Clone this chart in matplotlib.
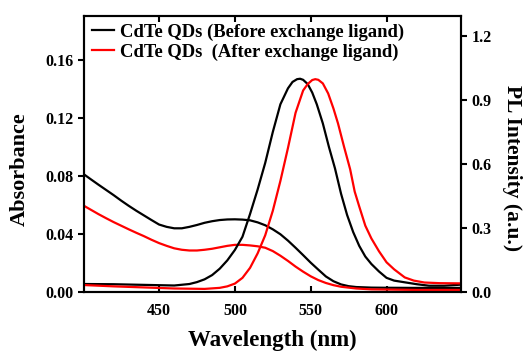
import numpy as np
import matplotlib
matplotlib.use('Agg')
import matplotlib.pyplot as plt

plt.rcParams['font.family'] = 'Liberation Serif'
plt.rcParams['font.weight'] = 'bold'

# absorbance, before exchange (black)
wl_abs_before = [401, 405, 410, 415, 420, 425, 430, 435, 440, 445, 450, 455, 460, 465, 470, 475, 480, 485, 490,
                 495, 500, 505, 510, 515, 520, 525, 530, 535, 540, 545, 550, 555, 560, 565, 570, 575, 580, 590,
                 600, 620, 649]
abs_before = [0.0805, 0.0775, 0.0738, 0.0702, 0.0666, 0.0628, 0.0592, 0.0558, 0.0526, 0.0494, 0.0463, 0.0447,
              0.0437, 0.0437, 0.0447, 0.046, 0.0475, 0.0486, 0.0494, 0.0498, 0.0499, 0.0497, 0.0492, 0.0478,
              0.0458, 0.043, 0.0396, 0.0352, 0.0303, 0.0252, 0.02, 0.0152, 0.0105, 0.0072, 0.005, 0.0038,
              0.0032, 0.0028, 0.0027, 0.0026, 0.0026]

# absorbance, after exchange (red)
wl_abs_after = [401, 405, 410, 415, 420, 425, 430, 435, 440, 445, 450, 455, 460, 465, 470, 475, 480, 485, 490,
                495, 500, 505, 510, 515, 520, 525, 530, 535, 540, 545, 550, 555, 560, 565, 570, 580, 590, 620, 649]
abs_after = [0.0589, 0.0565, 0.0535, 0.0507, 0.048, 0.0455, 0.043, 0.0406, 0.0383, 0.0358, 0.0335, 0.0316,
             0.0299, 0.0289, 0.0284, 0.0284, 0.0289, 0.0296, 0.0306, 0.0316, 0.0323, 0.0323, 0.0319, 0.0313,
             0.0303, 0.028, 0.0248, 0.0212, 0.0173, 0.0138, 0.0106, 0.008, 0.006, 0.0045, 0.0034, 0.0022,
             0.0016, 0.0012, 0.0012]

# PL, before exchange (black)
wl_pl_before = [401, 420, 440, 460, 470, 475, 480, 485, 490, 495, 500, 505, 510, 515, 520, 525, 530, 535, 538,
                541, 543, 545, 548, 551, 554, 558, 562, 566, 570, 574, 578, 582, 586, 590, 595, 600, 605, 612,
                620, 628, 638, 649]
pl_before = [0.036, 0.035, 0.032, 0.029, 0.036, 0.045, 0.058, 0.078, 0.108, 0.147, 0.196, 0.258, 0.365, 0.48,
             0.605, 0.75, 0.88, 0.955, 0.985, 0.998, 1.0, 0.995, 0.975, 0.935, 0.88, 0.79, 0.68, 0.579, 0.46,
             0.36, 0.28, 0.215, 0.165, 0.13, 0.095, 0.065, 0.052, 0.044, 0.035, 0.028, 0.028, 0.033]

# PL, after exchange (red)
wl_pl_after = [401, 420, 440, 460, 480, 490, 495, 500, 505, 510, 515, 520, 525, 530, 535, 540, 545, 548, 551,
               553, 555, 558, 561.5, 565, 568, 572, 576, 579, 582, 586, 590, 595, 600, 605, 612, 618, 625, 635,
               649]
pl_after = [0.031, 0.025, 0.02, 0.015, 0.013, 0.018, 0.025, 0.038, 0.065, 0.112, 0.18, 0.265, 0.38, 0.52,
            0.675, 0.84, 0.945, 0.975, 0.994, 0.998, 0.995, 0.978, 0.931, 0.86, 0.79, 0.68, 0.575, 0.47, 0.4,
            0.31, 0.25, 0.19, 0.138, 0.105, 0.067, 0.052, 0.043, 0.04, 0.039]

fig = plt.figure(figsize=(5.26, 3.51), dpi=100)
ax = fig.add_axes([0.16, 0.169, 0.717, 0.785])
ax2 = ax.twinx()

l1, = ax.plot(wl_abs_before, abs_before, color='black', lw=1.6, solid_joinstyle='round')
l2, = ax.plot(wl_abs_after, abs_after, color='red', lw=1.6, solid_joinstyle='round')
ax2.plot(wl_pl_before, pl_before, color='black', lw=1.6, solid_joinstyle='round')
ax2.plot(wl_pl_after, pl_after, color='red', lw=1.6, solid_joinstyle='round')

ax.set_xlim(400.6, 649.3)
ax.set_ylim(0, 0.19)
ax2.set_ylim(0, 1.294)
ax.set_xticks([450, 500, 550, 600])
ax.set_yticks([0.0, 0.04, 0.08, 0.12, 0.16])
ax.set_yticklabels(['0.00', '0.04', '0.08', '0.12', '0.16'])
ax2.set_yticks([0.0, 0.3, 0.6, 0.9, 1.2])
ax2.set_yticklabels(['0.0', '0.3', '0.6', '0.9', '1.2'])

ax.tick_params(axis='x', direction='in', top=True, length=4, width=1.5, labelsize=11.5, pad=8)
ax.tick_params(axis='y', direction='out', length=4, width=1.5, labelsize=11.5)
ax2.tick_params(axis='y', direction='out', length=4, width=1.5, labelsize=11.5)
for a in (ax, ax2):
    for s in a.spines.values():
        s.set_linewidth(1.5)

ax.set_xlabel('Wavelength (nm)', fontsize=16.5, fontweight='bold', labelpad=8)
ax.set_ylabel('Absorbance', fontsize=16, fontweight='bold')
ax.yaxis.set_label_coords(-0.143, 0.445)
ax2.set_ylabel('PL Intensity (a.u.)', fontsize=15.5, fontweight='bold', rotation=270)
ax2.yaxis.set_label_coords(1.162, 0.45)

ax.legend([l1, l2], ['CdTe QDs (Before exchange ligand)', 'CdTe QDs  (After exchange ligand)'],
          loc='upper left', frameon=False, handlelength=1.2, handletextpad=0.3,
          borderaxespad=0.0, labelspacing=0.15, prop={'weight': 'bold', 'size': 13.4})

fig.savefig('out.png', dpi=100)
